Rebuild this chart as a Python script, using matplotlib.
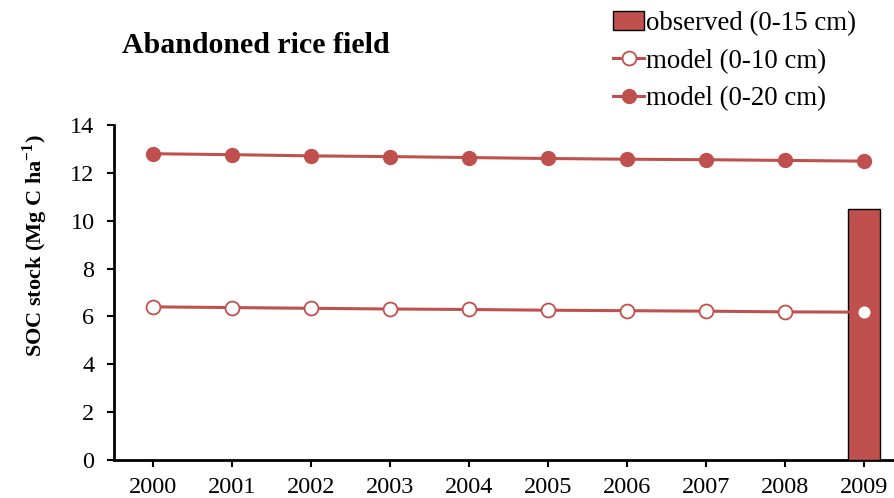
import numpy as np
import matplotlib.pyplot as plt

plt.rcParams['font.family'] = ['Liberation Serif', 'DejaVu Serif']

years = ['2000', '2001', '2002', '2003', '2004', '2005', '2006', '2007', '2008', '2009']
model_20 = [12.80, 12.76, 12.71, 12.68, 12.64, 12.60, 12.57, 12.55, 12.52, 12.49]
model_10 = [6.40, 6.37, 6.34, 6.31, 6.29, 6.26, 6.24, 6.22, 6.19, 6.18]
observed_year = '2009'
observed_val = 10.5

red = '#C0504D'

fig = plt.figure(figsize=(8.94, 4.98), dpi=100)
ax = fig.add_axes([0.1275, 0.0763, 0.8725, 0.6727])

x = np.arange(len(years))
xo = years.index(observed_year)

ax.bar([xo], [observed_val], width=0.405, color=red, edgecolor='black',
       linewidth=1.0, zorder=3, label='observed (0-15 cm)')
ax.plot(x, model_10, color=red, lw=2.2, marker='o', ms=10, mfc='white',
        mec=red, mew=1.3, zorder=4, label='model (0-10 cm)')
ax.plot(x, model_20, color=red, lw=2.2, marker='o', ms=10, mfc=red,
        mec=red, zorder=4, label='model (0-20 cm)')

ax.set_xlim(-0.494, 9.38)
ax.set_ylim(0, 14)
ax.set_yticks(range(0, 15, 2))
ax.set_xticks(x)
ax.set_xticklabels(years)
ax.tick_params(axis='both', labelsize=17.5, direction='out', length=5,
               width=1.5, colors='black')
ax.tick_params(axis='x', pad=7)
ax.tick_params(axis='y', pad=9)
for s in ['top', 'right']:
    ax.spines[s].set_visible(False)
for s in ['left', 'bottom']:
    ax.spines[s].set_linewidth(2)

ax.set_ylabel('SOC stock (Mg C ha$^{\\mathregular{-1}}$)', fontsize=16,
              fontweight='bold')
ax.yaxis.set_label_coords(-0.082, 0.64)

fig.text(0.137, 0.908, 'Abandoned rice field', fontsize=21.5,
         fontweight='bold', va='center')

h, l = ax.get_legend_handles_labels()
order = [l.index('observed (0-15 cm)'), l.index('model (0-10 cm)'),
         l.index('model (0-20 cm)')]
fig.legend([h[i] for i in order], [l[i] for i in order], loc='upper left',
           bbox_to_anchor=(0.686, 0.978), frameon=False, fontsize=19.4,
           handlelength=1.15, handletextpad=0.05, labelspacing=0.47,
           borderaxespad=0, borderpad=0)

fig.savefig('out.png', dpi=100)
